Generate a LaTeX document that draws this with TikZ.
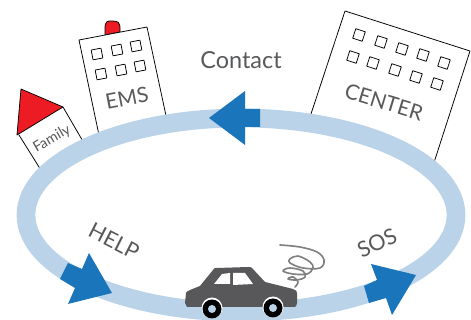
\documentclass[tikz,border=0pt]{standalone}
\usepackage{fontspec}
\setmainfont{Lato}
\definecolor{ringblue}{HTML}{BAD3E8}
\definecolor{arrowblue}{HTML}{1B75BB}
\definecolor{textgrey}{HTML}{58595B}
\definecolor{carbody}{HTML}{58585A}
\definecolor{alarmred}{HTML}{ED1C24}

\begin{document}
\begin{tikzpicture}[
        x=0.03cm, y=-0.03cm,
        line join=round,
        wallstyle/.style = {draw=black, fill=white, line width=0.65pt},
        redstyle/.style = {draw=black, fill=alarmred, line width=0.65pt},
        winstyle/.style = {draw=black, fill=white, line width=0.65pt, minimum size=8.5pt, inner sep=0pt},
        arrowstyle/.style = {fill=arrowblue},
        labelstyle/.style = {text=textgrey, inner sep=0pt}
    ]
        \useasboundingbox (0, 0) rectangle (471, 320);

        % family house
        \coordinate (h1) at (21, 89);
        \coordinate (h2) at (63, 107);
        \coordinate (h3) at (17, 135);
        \coordinate (h4) at (19, 135);
        \coordinate (h5) at (44, 175);
        \coordinate (h6) at (88, 150);
        \draw[wallstyle] (h4) -- (h5) -- (h6) -- (h2);
        \draw[redstyle] (h1) -- (h2) -- (h3) -- cycle;
        \node[labelstyle, font=\fontsize{12.3}{12.3}\selectfont, rotate=30] (family) at (52, 139) {Family};

        % ems building
        \coordinate (e1) at (79, 40);
        \coordinate (e2) at (147, 27);
        \coordinate (e3) at (168, 125);
        \coordinate (e4) at (100, 140);
        \draw[redstyle] (105, 35) -- (105, 29) .. controls (105, 21) and (107, 21) .. (112, 21) .. controls (118, 21) and (120, 22) .. (120, 29) -- (120, 32) -- cycle;
        \draw[wallstyle] (e1) -- (e2) -- (e3) -- (e4) -- cycle;
        \node[winstyle, rotate=11] (w1) at (97, 54) {};
        \node[winstyle, rotate=11] (w2) at (117, 50) {};
        \node[winstyle, rotate=11] (w3) at (136, 46) {};
        \node[winstyle, rotate=11] (w4) at (101, 74) {};
        \node[winstyle, rotate=11] (w5) at (121, 70) {};
        \node[winstyle, rotate=11] (w6) at (140, 66) {};
        \node[labelstyle, font=\fontsize{18}{18}\selectfont, rotate=11] (ems) at (127, 98) {EMS};

        % center building
        \coordinate (c1) at (345, 11);
        \coordinate (c2) at (470, 51);
        \coordinate (c3) at (430, 175);
        \coordinate (c4) at (308, 123);
        \draw[wallstyle] (c4) -- (c1) -- (c2) -- (c3);
        \node[winstyle, rotate=-18] (k1) at (359, 35) {};
        \node[winstyle, rotate=-18] (k2) at (381, 42) {};
        \node[winstyle, rotate=-18] (k3) at (402, 49) {};
        \node[winstyle, rotate=-18] (k4) at (423, 55) {};
        \node[winstyle, rotate=-18] (k5) at (444, 63) {};
        \node[winstyle, rotate=-18] (k6) at (353, 57) {};
        \node[winstyle, rotate=-18] (k7) at (373, 63) {};
        \node[winstyle, rotate=-18] (k8) at (395, 70) {};
        \node[winstyle, rotate=-18] (k9) at (416, 77) {};
        \node[winstyle, rotate=-18] (k10) at (437, 84) {};
        \node[labelstyle, font=\fontsize{18}{18}\selectfont, rotate=-17] (center) at (384, 102) {CENTER};

        % ring
        \draw[ringblue, line width=16pt] (241, 215) ellipse [x radius=215, y radius=97];

        % arrows
        \fill[arrowstyle] (209, 118) -- (245, 91) -- (245, 109) -- (260, 109) -- (260, 127) -- (245, 127) -- (245, 145) -- cycle;
        \fill[arrowstyle] (112, 293) -- (89, 253) -- (82, 269) -- (68, 263) -- (60, 279) -- (75, 288) -- (68, 304) -- cycle;
        \fill[arrowstyle] (416, 275) -- (371, 264) -- (377, 280) -- (364, 286) -- (369, 303) -- (386, 298) -- (392, 315) -- cycle;

        % car
        \fill[carbody] (187, 307) -- (185, 303) -- (186, 293) .. controls (186, 292) and (188, 291) .. (190, 290) -- (200, 286) -- (213, 270) .. controls (214, 268) and (215, 268) .. (217, 268) -- (248, 267) .. controls (250, 267) and (251, 267) .. (252, 268) -- (265, 282) -- (293, 289) .. controls (296, 290) and (297, 291) .. (297, 293) -- (297, 303) .. controls (297, 305) and (296, 306) .. (295, 307) -- cycle;
        \fill[white] (214, 284) -- (222, 274) -- (230, 273) -- (230, 284) -- cycle;
        \fill[white] (233, 273) -- (245, 273) -- (253, 284) -- (233, 285) -- cycle;
        \fill[white] (212, 308) circle (10.5);
        \fill[black] (212, 309) circle (9.5);
        \fill[ringblue] (212, 309) circle (4);
        \fill[white] (273, 307) circle (10.5);
        \fill[black] (273, 308) circle (9.5);
        \fill[ringblue] (273, 308) circle (4);
        \draw[gray, line width=1.4pt, line cap=round] plot[smooth, tension=0.6] coordinates {(280, 245) (300, 247) (317, 252) (324, 260) (320, 268) (303, 268) (290, 263) (290, 259) (298, 256) (310, 262) (313, 268) (307, 274) (293, 274) (283, 271) (290, 268) (303, 271) (305, 277) (297, 280) (288, 279) (293, 277) (298, 282) (295, 287)};

        % texts
        \node[labelstyle, font=\fontsize{20}{20}\selectfont] (contact) at (241, 60) {Contact};
        \node[labelstyle, font=\fontsize{18.5}{18.5}\selectfont, rotate=-27] (help) at (114, 241) {HELP};
        \node[labelstyle, font=\fontsize{18.5}{18.5}\selectfont, rotate=25] (sos) at (377, 243) {SOS};

    \end{tikzpicture}
\end{document}
